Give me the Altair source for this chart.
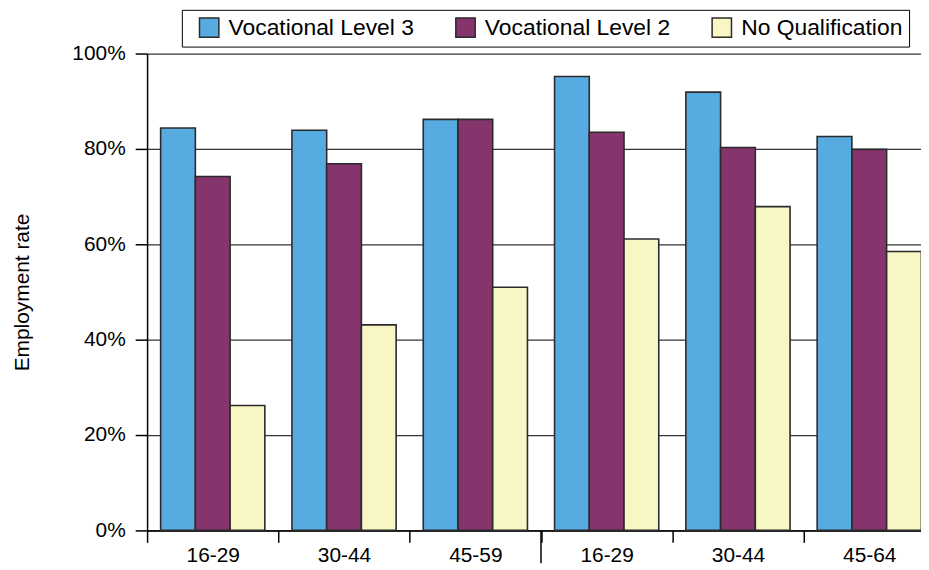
import altair as alt
import pandas as pd

group_keys = ["a|16-29", "b|30-44", "c|45-59", "d|16-29", "e|30-44", "f|45-64"]
divider_group = ["d|16-29"]
series = ["Vocational Level 3", "Vocational Level 2", "No Qualification"]
level3 = [84.4, 83.9, 86.2, 95.2, 91.9, 82.6]
level2 = [74.2, 76.9, 86.2, 83.5, 80.3, 79.9]
noqual = [26.2, 43.1, 51.0, 61.1, 67.9, 58.5]
colors = ["#58ABE0", "#85346C", "#F9F6C5"]
y_ticks = [0, 0.2, 0.4, 0.6, 0.8, 1.0]

rows = []
for vals, s in zip([level3, level2, noqual], series):
    for g, v in zip(group_keys, vals):
        rows.append({"group": g, "series": s, "rate": v / 100})
df = pd.DataFrame(rows)
df_div = pd.DataFrame({"group": divider_group})

font = "Liberation Sans, Arial, sans-serif"
W, H = 793, 480

x_enc = alt.X(
    "group:N", sort=group_keys,
    scale=alt.Scale(paddingInner=0, paddingOuter=0),
    axis=alt.Axis(
        title=None, labelExpr="split(datum.value, '|')[1]", tickBand="extent",
        labelAngle=0, labelFont=font, labelFontSize=21, labelColor="black",
        labelPadding=2, tickColor="black", tickWidth=1.5, tickSize=12,
        domainColor="black", domainWidth=1.5, grid=False,
    ),
)

bars = alt.Chart(df).mark_bar(stroke="#2b2b2b", strokeWidth=1.6).encode(
    x=x_enc,
    xOffset=alt.XOffset("series:N", sort=series, scale=alt.Scale(paddingOuter=0.39, paddingInner=0)),
    y=alt.Y(
        "rate:Q", scale=alt.Scale(domain=[0, 1]),
        axis=alt.Axis(
            values=y_ticks, format="%", title="Employment rate",
            titleFont=font, titleFontSize=21, titleFontWeight="normal", titleColor="black",
            titlePadding=40,
            labelFont=font, labelFontSize=21, labelColor="black", labelPadding=10,
            tickColor="black", tickWidth=1.5, tickSize=12,
            domainColor="black", domainWidth=1.5,
            grid=True, gridColor="#333333", gridWidth=1.3,
        ),
    ),
    color=alt.Color(
        "series:N", sort=series,
        scale=alt.Scale(domain=series, range=colors),
        legend=alt.Legend(
            title=None, orient="none", legendX=35, legendY=-44, direction="horizontal",
            strokeColor="black", fillColor="white", padding=6,
            symbolType="square", symbolSize=380, symbolStrokeColor="#2b2b2b",
            symbolStrokeWidth=1.5, symbolOpacity=1, symbolOffset=10,
            labelFont=font, labelFontSize=23, labelColor="black", labelOffset=8,
            labelLimit=0, columnPadding=30,
        ),
    ),
)

divider = alt.Chart(df_div).mark_rule(color="black", strokeWidth=1.5).encode(
    x=alt.X("group:N", sort=group_keys, bandPosition=0),
    y=alt.value(H),
    y2=alt.value(H + 33),
)

chart = alt.layer(bars, divider).properties(
    width=W, height=H,
    padding={"left": 140, "top": 44, "right": -14, "bottom": 36},
    autosize=alt.AutoSizeParams(type="none"),
).configure_view(stroke=None)

chart.save("out.html", embed_options={"renderer": "svg", "actions": False})
